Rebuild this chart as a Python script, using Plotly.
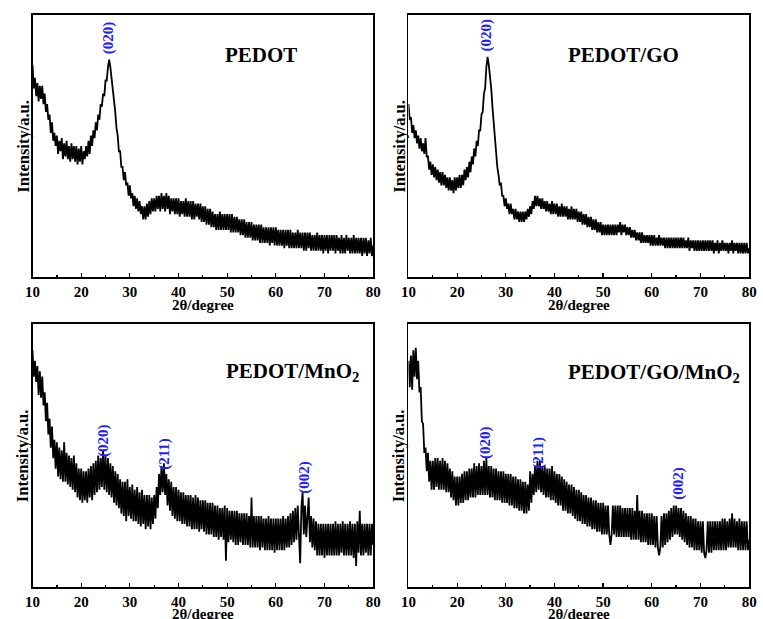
import plotly.graph_objects as go

# ---------------- data: intensity (a.u.), 2theta from 10 to 80 in steps of 0.25 ----------------
two_theta_start = 10.0
two_theta_step = 0.25

pedot = [
    81, 72, 76, 69,  74, 67, 73, 68,  73, 66, 70, 63,  66, 60, 62, 55,  59, 52, 55, 50,
    54, 47, 52, 48,  53, 45, 51, 46,  52, 45, 50, 44,  51, 45, 50, 44,  50, 43, 49, 44,
    50, 43, 48, 45,  50, 46, 52, 47,  54, 50, 56, 53,  59, 56, 62, 60,  66, 65, 70, 69,
    75, 75, 80, 83,  80, 76, 73, 68,  63, 57, 54, 48,  48, 42, 42, 37,  40, 35, 36, 31,
    35, 30, 32, 27,  31, 26, 30, 25,  29, 24, 27, 22,  27, 22, 28, 23,  29, 24, 30, 25,
    30, 25, 31, 26,  31, 25, 32, 26,  31, 25, 32, 26,  31, 24, 30, 25,  30, 24, 30, 24,
    30, 23, 29, 24,  29, 23, 30, 23,  29, 23, 29, 22,  29, 22, 28, 23,  28, 22, 28, 21,
    27, 21, 27, 20,  26, 20, 26, 19,  25, 19, 24, 18,  24, 18, 25, 18,  24, 18, 24, 18,
    24, 18, 24, 17,  24, 17, 23, 17,  23, 17, 22, 16,  22, 16, 22, 15,  21, 15, 21, 15,
    21, 14, 20, 14,  20, 14, 20, 13,  20, 13, 19, 13,  19, 13, 19, 12,  19, 13, 19, 12,
    19, 12, 18, 12,  18, 12, 18, 11,  18, 12, 18, 11,  18, 11, 17, 11,  17, 11, 18, 11,
    17, 11, 17, 10,  17, 10, 17, 11,  17, 10, 16, 10,  16, 10, 17, 10,  16, 10, 16, 9,
    16, 10, 16, 9,   16, 10, 16, 10,  16, 9, 16, 10,   15, 9, 16, 9,    15, 9, 16, 10,
    15, 9, 15, 9,    16, 9, 15, 9,    15, 9, 15, 8,    15, 9, 15, 8,    14, 9, 15, 8,
    12,
]

pedot_go = [
    66, 60, 61, 55,  58, 53, 56, 51,  54, 49, 53, 48,  51, 47, 53, 46,  46, 41, 44, 39,
    43, 38, 42, 37,  41, 36, 40, 35,  40, 35, 39, 34,  38, 33, 38, 33,  37, 32, 38, 33,
    38, 34, 39, 34,  39, 35, 41, 37,  42, 38, 44, 40,  46, 43, 49, 46,  52, 50, 56, 56,
    62, 63, 70, 72,  80, 84, 81, 77,  72, 65, 59, 52,  48, 42, 39, 35,  36, 31, 31, 27,
    30, 26, 28, 24,  28, 24, 26, 22,  26, 22, 25, 21,  25, 21, 25, 21,  25, 22, 26, 23,
    27, 24, 29, 26,  31, 27, 31, 27,  30, 26, 30, 26,  29, 25, 29, 25,  28, 24, 29, 24,
    28, 24, 28, 23,  27, 23, 28, 23,  27, 23, 27, 22,  26, 22, 27, 22,  26, 22, 26, 21,
    25, 21, 25, 20,  24, 20, 24, 19,  23, 19, 23, 18,  22, 18, 22, 17,  21, 17, 21, 16,
    20, 16, 20, 16,  20, 16, 20, 16,  20, 16, 20, 16,  20, 17, 21, 16,  20, 17, 20, 16,
    19, 16, 19, 15,  18, 15, 18, 14,  17, 14, 17, 13,  17, 13, 16, 13,  16, 13, 16, 12,
    16, 12, 16, 12,  15, 12, 16, 12,  15, 12, 15, 11,  15, 11, 15, 11,  15, 11, 15, 11,
    15, 11, 15, 11,  15, 11, 15, 11,  14, 11, 15, 10,  14, 11, 14, 10,  14, 10, 14, 10,
    14, 10, 14, 10,  14, 10, 14, 10,  14, 10, 14, 9,   13, 10, 14, 9,   13, 10, 14, 10,
    13, 10, 13, 9,   13, 10, 14, 9,   13, 10, 13, 9,   13, 9, 13, 9,    13, 9, 13, 9,
    11,
]

pedot_mno2 = [
    90, 80, 86, 78,  84, 73, 82, 72,  80, 69, 74, 63,  70, 58, 64, 53,  61, 49, 56, 45,
    55, 42, 53, 41,  52, 40, 55, 40,  51, 39, 50, 38,  49, 37, 50, 36,  47, 34, 45, 33,
    45, 32, 44, 33,  44, 32, 45, 34,  46, 33, 47, 35,  48, 36, 50, 37,  49, 38, 52, 37,
    50, 36, 49, 35,  47, 34, 46, 32,  44, 31, 43, 30,  41, 28, 40, 27,  40, 25, 41, 27,
    38, 26, 39, 25,  37, 25, 38, 24,  36, 23, 37, 24,  35, 22, 35, 23,  35, 22, 34, 24,
    35, 26, 38, 30,  43, 35, 46, 36,  47, 35, 43, 31,  41, 29, 40, 27,  38, 26, 38, 25,
    37, 25, 36, 24,  36, 24, 35, 23,  35, 23, 35, 22,  34, 22, 35, 22,  34, 21, 33, 22,
    33, 21, 33, 20,  32, 20, 32, 20,  32, 19, 31, 19,  31, 18, 30, 19,  30, 18, 31, 10,
    30, 17, 29, 18,  29, 17, 29, 16,  29, 16, 28, 17,  28, 16, 28, 16,  28, 16, 27, 15,
    34, 15, 27, 15,  27, 15, 27, 14,  27, 15, 26, 14,  26, 14, 27, 14,  26, 14, 26, 13,
    26, 14, 26, 14,  26, 14, 27, 14,  26, 15, 27, 15,  28, 16, 29, 17,  30, 18, 31, 19,
    9, 30, 36, 20,   31, 19, 29, 34,  17, 27, 15, 26,  14, 25, 12, 24,  12, 24, 12, 24,
    11, 24, 12, 24,  12, 24, 12, 24,  12, 25, 12, 24,  12, 24, 13, 25,  12, 24, 12, 24,
    12, 25, 12, 24,  11, 24, 8, 25,   13, 29, 12, 24,  12, 24, 13, 24,  12, 24, 12, 24,
    16,
]

pedot_go_mno2 = [
    86, 76, 88, 75,  90, 80, 91, 79,  86, 74, 76, 63,  62, 51, 53, 44,  51, 40, 48, 37,
    48, 37, 49, 38,  49, 37, 48, 37,  49, 37, 48, 36,  47, 36, 45, 34,  44, 33, 42, 31,
    42, 31, 42, 32,  43, 32, 44, 33,  44, 33, 45, 34,  45, 34, 47, 34,  46, 35, 47, 35,
    46, 35, 48, 35,  49, 35, 46, 34,  46, 34, 45, 33,  45, 33, 44, 33,  44, 32, 44, 32,
    43, 32, 43, 31,  43, 31, 42, 30,  42, 30, 41, 29,  41, 29, 40, 28,  40, 28, 39, 29,
    44, 32, 43, 35,  46, 36, 48, 37,  48, 36, 46, 35,  46, 34, 45, 34,  45, 33, 46, 33,
    44, 32, 43, 31,  43, 31, 42, 29,  41, 29, 40, 28,  39, 28, 39, 27,  38, 26, 37, 25,
    37, 25, 36, 24,  35, 24, 35, 23,  34, 23, 34, 22,  33, 22, 33, 21,  32, 21, 32, 20,
    32, 20, 31, 20,  31, 20, 16, 20,  31, 20, 31, 19,  31, 19, 31, 19,  30, 19, 30, 19,
    30, 19, 30, 18,  30, 18, 29, 18,  35, 18, 29, 17,  29, 17, 28, 17,  28, 16, 28, 16,
    28, 16, 27, 15,  27, 15, 12, 15,  27, 15, 28, 16,  28, 17, 29, 18,  30, 19, 31, 20,
    31, 20, 30, 19,  30, 18, 29, 17,  28, 16, 27, 15,  27, 15, 26, 14,  26, 14, 25, 14,
    25, 13, 25, 13,  11, 14, 25, 13,  25, 13, 25, 14,  25, 14, 25, 14,  25, 14, 26, 14,
    26, 14, 25, 15,  26, 15, 28, 15,  26, 15, 25, 14,  26, 14, 25, 14,  25, 14, 25, 14,
    18,
]

panel_names = ["PEDOT", "PEDOT/GO", "PEDOT/MnO<sub>2</sub>", "PEDOT/GO/MnO<sub>2</sub>"]
series = [pedot, pedot_go, pedot_mno2, pedot_go_mno2]

# peak labels: (panel index, label, 2theta, intensity position)
peak_labels = [
    (0, "(020)", 25.5, 91.5),
    (1, "(020)", 26.1, 92.5),
    (2, "(020)", 24.5, 55.5),
    (2, "(211)", 37.2, 50.6),
    (2, "(002)", 65.7, 41.8),
    (3, "(020)", 25.7, 55.1),
    (3, "(211)", 36.8, 51.0),
    (3, "(002)", 65.5, 39.5),
]

x_ticks = [10, 20, 30, 40, 50, 60, 70, 80]
x_tick_labels = ["10", "20", "30", "40", "50", "60", "70", "80"]

# ---------------- layout geometry (page pixels) ----------------
W, H = 763, 619
panels_px = [  # left, right, top, bottom
    (26, 373, 15, 277),
    (409, 756, 15, 277),
    (26, 373, 324, 587),
    (409, 756, 324, 587),
]
title_px = [(259, 55), (628, 55), (291, 372), (659, 373)]
xtitle_offset = [28, 28, 27, 27]


def px(xp):
    return xp / W


def py(yp):
    return 1 - yp / H


FONT = "Liberation Serif"
fig = go.Figure()
layout = dict(
    width=W, height=H, margin=dict(l=0, r=0, t=0, b=0, pad=0),
    paper_bgcolor="white", plot_bgcolor="white", showlegend=False,
    font=dict(family=FONT, color="black"),
)
annotations = []

for i, (ys, name) in enumerate(zip(series, panel_names)):
    xs = [two_theta_start + two_theta_step * k for k in range(len(ys))]
    xa = "x" if i == 0 else f"x{i+1}"
    ya = "y" if i == 0 else f"y{i+1}"
    fig.add_trace(go.Scatter(x=xs, y=ys, mode="lines", xaxis=xa, yaxis=ya,
                             line=dict(color="black", width=1.8)))
    l, r, t, b = panels_px[i]
    xkey = "xaxis" if i == 0 else f"xaxis{i+1}"
    ykey = "yaxis" if i == 0 else f"yaxis{i+1}"
    layout[xkey] = dict(
        domain=[px(l), px(r)], anchor=ya, range=[10, 80],
        tickvals=x_ticks, ticktext=[f"<b>{t_}</b>" for t_ in x_tick_labels],
        ticks="inside", ticklen=4, tickwidth=1.3, tickcolor="black",
        showline=True, linecolor="black", linewidth=1.6, mirror=True,
        showgrid=False, zeroline=False,
        tickfont=dict(family=FONT, size=15, color="black"),
        minor=dict(ticks="inside", ticklen=2.5, tickwidth=1.3, tickcolor="black",
                   dtick=5, tick0=10, showgrid=False),
    )
    layout[ykey] = dict(
        domain=[py(b), py(t)], anchor=xa, range=[0, 100],
        showticklabels=False, ticks="", showline=True, linecolor="black",
        linewidth=1.6, mirror=True, showgrid=False, zeroline=False,
    )
    tx, ty = title_px[i]
    annotations.append(dict(xref="paper", yref="paper", x=px(tx), y=py(ty),
                            text=f"<b>{name}</b>", showarrow=False,
                            font=dict(family=FONT, size=21, color="black"),
                            xanchor="center", yanchor="middle"))
    annotations.append(dict(xref="paper", yref="paper", x=px(l - 10), y=py((t + b) / 2),
                            text="<b>Intensity/a.u.</b>", showarrow=False, textangle=-90,
                            font=dict(family=FONT, size=16.5, color="black"),
                            xanchor="center", yanchor="middle"))
    annotations.append(dict(xref="paper", yref="paper", x=px((l + r) / 2),
                            y=py(b + xtitle_offset[i]),
                            text="<b>2θ/degree</b>", showarrow=False,
                            font=dict(family=FONT, size=15, color="black"),
                            xanchor="center", yanchor="middle"))

for (pi, lab, xv, yv) in peak_labels:
    xa = "x" if pi == 0 else f"x{pi+1}"
    ya = "y" if pi == 0 else f"y{pi+1}"
    annotations.append(dict(xref=xa, yref=ya, x=xv, y=yv, text=f"<b>{lab}</b>",
                            showarrow=False, textangle=-90,
                            font=dict(family=FONT, size=15, color="#1f1fff"),
                            xanchor="center", yanchor="middle"))

layout["annotations"] = annotations
fig.update_layout(**layout)
fig.write_html(
    "out.html",
    config={"displayModeBar": False, "staticPlot": True},
    post_script="document.body.style.margin='0px';document.body.style.overflow='hidden';",
)
